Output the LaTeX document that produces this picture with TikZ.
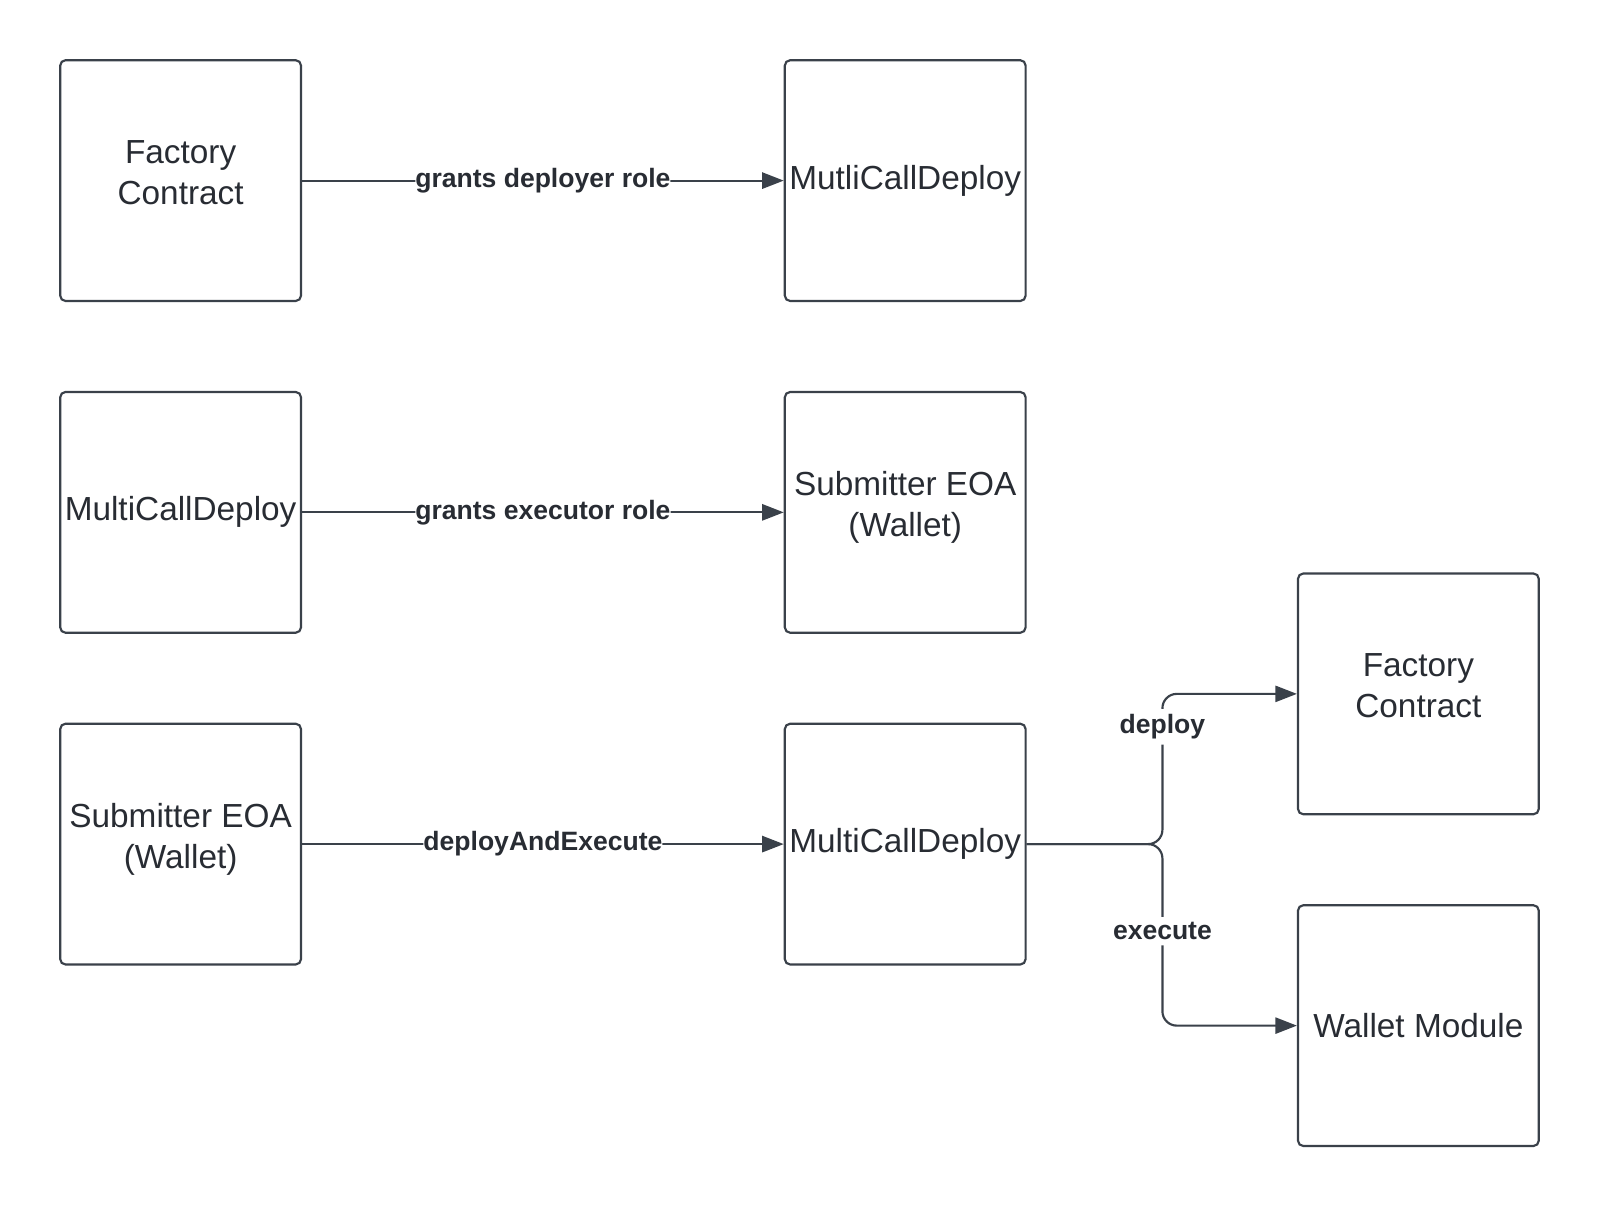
\documentclass[tikz,border=0pt]{standalone}
\usepackage{fontspec}
\setmainfont{Liberation Sans}
\usetikzlibrary{arrows.meta,positioning}
\definecolor{linec}{HTML}{3A414A}
\definecolor{textc}{HTML}{282C33}

\begin{document}
\begin{tikzpicture}[
        block/.style={draw=linec, line width=0.6pt, rounded corners=1.5pt,
            minimum width=2.36cm, minimum height=2.36cm, align=center,
            inner sep=1pt, text=textc, font=\fontsize{9.3}{11.4}\selectfont},
        twoline/.style={text depth=4.5pt},
        link/.style={draw=linec, line width=0.6pt, rounded corners=4pt,
            -{Triangle[length=6pt,width=4.5pt]}},
        tag/.style={fill=white, text=textc, inner xsep=0pt, inner ysep=1.5pt,
            font=\bfseries\fontsize{7.4}{9}\selectfont}
    ]
    \useasboundingbox (0,0) rectangle (15.68,11.83);
    % left and middle columns
    \node[block, twoline] (fac1) at (1.77,10.06) {Factory\\Contract};
    \node[block, right=4.72cm of fac1] (mcd1) {MutliCallDeploy};
    \node[block, below=0.87cm of fac1] (mcd2) {MultiCallDeploy};
    \node[block, twoline, right=4.72cm of mcd2] (eoa2) {Submitter EOA\\(Wallet)};
    \node[block, twoline, below=0.87cm of mcd2] (eoa3) {Submitter EOA\\(Wallet)};
    \node[block, right=4.72cm of eoa3] (mcd3) {MultiCallDeploy};
    % right column
    \node[block, twoline] (fac3) at (13.90,5.03) {Factory\\Contract};
    \node[block, below=0.87cm of fac3] (mod3) {Wallet Module};

    \draw[link] (fac1) -- node[tag] {grants deployer role} (mcd1);
    \draw[link] (mcd2) -- node[tag] {grants executor role} (eoa2);
    \draw[link] (eoa3) -- node[tag] {deployAndExecute} (mcd3);

    \coordinate (fork) at ([xshift=1.33cm]mcd3.east);
    \draw[link] (mcd3.east) -- (fork) |- node[tag, pos=0.39] {deploy} (fac3.west);
    \draw[link] (mcd3.east) -- (fork) |- node[tag, pos=0.24] {execute} (mod3.west);
\end{tikzpicture}
\end{document}
